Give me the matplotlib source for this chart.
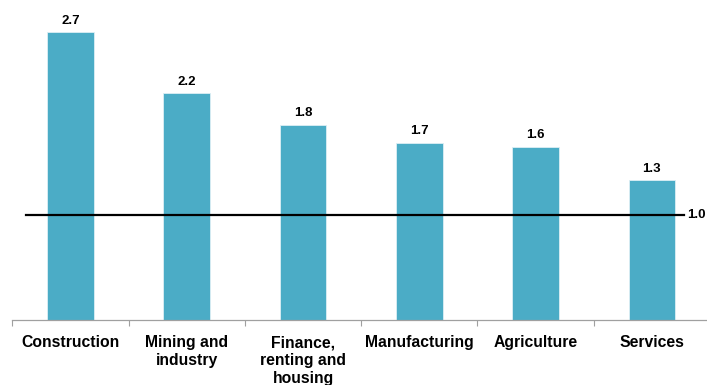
import numpy as np
import matplotlib.pyplot as plt

plt.rcParams['font.family'] = ['Liberation Sans', 'DejaVu Sans']

sectors = ['Construction', 'Mining and\nindustry', 'Finance,\nrenting and\nhousing',
           'Manufacturing', 'Agriculture', 'Services']
values = [2.74, 2.16, 1.86, 1.69, 1.65, 1.33]
value_labels = ['2.7', '2.2', '1.8', '1.7', '1.6', '1.3']
reference = 1.0
reference_label = '1.0'

bar_color = '#4BACC6'

fig = plt.figure(figsize=(7.07, 3.85), dpi=100)
ax = fig.add_axes([12.3 / 707, 65 / 385, 697.7 / 707, 320 / 385])

x = np.arange(len(sectors))
ax.bar(x, values, width=0.40, color=bar_color, edgecolor='#DDEFF4', linewidth=0.6, zorder=2)

for xi, v, lab in zip(x, values, value_labels):
    ax.annotate(lab, (xi, v), xytext=(0, 4), textcoords='offset points',
                ha='center', va='bottom', fontsize=9.5, fontweight='bold')

# reference line at 1.0
ax.plot([-0.382, 5.28], [reference, reference], color='black', linewidth=1.6, zorder=3)
ax.text(5.46, reference, reference_label, ha='right', va='center',
        fontsize=9.5, fontweight='bold')

ax.set_xlim(-0.5, 5.5)
ax.set_ylim(0, 320 / 105)

ax.set_xticks(x)
ax.set_xticklabels(sectors, fontsize=11.3, fontweight='bold', linespacing=1.25, va='top')
ax.tick_params(axis='x', which='major', length=0, pad=11)
ax.set_xticks(np.arange(-0.5, 6.0, 1.0), minor=True)
ax.tick_params(axis='x', which='minor', length=4, width=0.8, color='#A0A0A0')

ax.set_yticks([])
for side in ['top', 'right', 'left']:
    ax.spines[side].set_visible(False)
ax.spines['bottom'].set_color('#A0A0A0')
ax.spines['bottom'].set_linewidth(0.9)

fig.savefig('out.png', dpi=100)
